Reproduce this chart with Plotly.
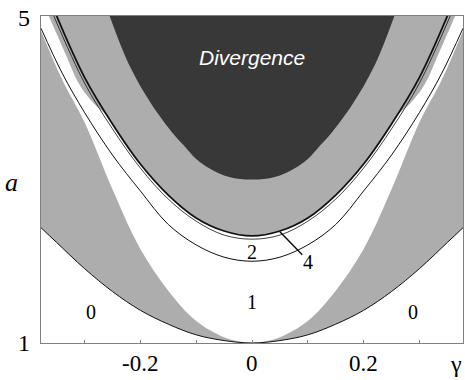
import plotly.graph_objects as go

# ---- data (half-curves, symmetric in gamma) ----
gamma_A = [0.0, 0.05, 0.10, 0.15, 0.20, 0.25, 0.30, 0.35, 0.378]
a_A     = [1.00, 1.03, 1.10, 1.23, 1.40, 1.63, 1.91, 2.23, 2.41]

gamma_B = [0.0, 0.025, 0.05, 0.10, 0.15, 0.20, 0.25, 0.30, 0.34, 0.378]
a_B     = [1.00, 1.02, 1.07, 1.27, 1.64, 2.15, 2.88, 3.70, 4.22, 4.82]

gamma_C = [0.0, 0.05, 0.10, 0.15, 0.20, 0.25, 0.30, 0.34, 0.378]
a_C     = [2.00, 2.05, 2.20, 2.45, 2.86, 3.30, 3.82, 4.30, 4.85]

gamma_D = [0.0, 0.05, 0.10, 0.15, 0.20, 0.25, 0.30, 0.355]
a_D     = [2.27, 2.32, 2.49, 2.76, 3.14, 3.62, 4.18, 5.00]

gamma_E = [0.0, 0.05, 0.10, 0.15, 0.20, 0.25, 0.30, 0.35]
a_E     = [2.31, 2.37, 2.53, 2.81, 3.19, 3.68, 4.25, 5.00]

gamma_W = [0.26, 0.29, 0.31, 0.335, 0.364]
a_W     = [3.78, 3.98, 4.17, 4.55, 5.00]

gamma_V = [0.0, 0.025, 0.05, 0.075, 0.10, 0.12, 0.14, 0.18, 0.22, 0.255]
a_V     = [3.00, 3.01, 3.05, 3.13, 3.25, 3.40, 3.55, 3.92, 4.40, 5.00]

x_ticks = [-0.3, -0.2, -0.1, 0.0, 0.1, 0.2, 0.3]
x_ticktext = ["", "-0.2", "", "0", "", "0.2", ""]
y_ticks = [1, 5]
y_ticktext = ["1", "5"]

GRAY = "#adadad"
DARK = "#383838"
XMAX = 0.378
YMIN, YTOP = 1.0, 5.0


def mirror(g, a):
    xs = [-v for v in reversed(g)] + (g[1:] if g[0] == 0 else g)
    ys = list(reversed(a)) + (a[1:] if g[0] == 0 else a)
    return xs, ys


fig = go.Figure()


def top_line():
    fig.add_trace(go.Scatter(x=[-XMAX, XMAX], y=[YTOP, YTOP], mode="lines",
                             line=dict(width=0), hoverinfo="skip"))


def fill_to_top(xs, ys, color):
    top_line()
    fig.add_trace(go.Scatter(x=xs, y=ys, mode="lines", fill="tonexty", fillcolor=color,
                             line=dict(width=0, shape="spline", smoothing=1.0), hoverinfo="skip"))


# gray region above curve A
xa, ya = mirror(gamma_A, a_A)
fill_to_top(xa, ya, GRAY)
# white region inside B
xb, yb = mirror(gamma_B, a_B)
fill_to_top(xb, yb, "white")
# gray region above E / W
mid_g = [g for g in gamma_E if g < gamma_W[0]]
mid_a = a_E[:len(mid_g)]
xm, ym = mirror(mid_g, mid_a)
xs3 = [-g for g in reversed(gamma_W)] + xm + gamma_W
ys3 = list(reversed(a_W)) + ym + a_W
fill_to_top(xs3, ys3, GRAY)
# divergence region
xv, yv = mirror(gamma_V, a_V)
fill_to_top(xv, yv, DARK)

# boundary lines
for g, a, w in [(gamma_A, a_A, 1.0), (gamma_C, a_C, 1.0), (gamma_D, a_D, 0.8), (gamma_E, a_E, 1.8)]:
    xl, yl = mirror(g, a)
    fig.add_trace(go.Scatter(x=xl, y=yl, mode="lines",
                             line=dict(color="#111111", width=w, shape="spline"), hoverinfo="skip"))

# pointer for label 4
fig.add_trace(go.Scatter(x=[0.05, 0.09], y=[2.36, 2.08], mode="lines",
                         line=dict(color="#111111", width=1.5), hoverinfo="skip"))

serif = "Liberation Serif, Times New Roman, serif"
ann = []
for txt, x, y in [("0", -0.289, 1.38), ("0", 0.288, 1.38), ("1", 0.0, 1.5), ("2", 0.0, 2.11), ("4", 0.101, 1.99)]:
    ann.append(dict(x=x, y=y, text=txt, showarrow=False, xref="x", yref="y",
                    xanchor="center", yanchor="middle",
                    font=dict(family=serif, size=20, color="black")))
ann.append(dict(x=0.0, y=4.49, text="<i>Divergence</i>", showarrow=False, xref="x", yref="y",
                xanchor="center", yanchor="middle",
                font=dict(family="Liberation Sans, Arial, sans-serif", size=21, color="white")))
# axis titles
ann.append(dict(x=-0.069, y=0.492, text="<i>a</i>", showarrow=False, xref="paper", yref="paper",
                xanchor="center", yanchor="middle",
                font=dict(family=serif, size=26, color="black")))
ann.append(dict(x=0.983, y=-0.064, text="γ", showarrow=False, xref="paper", yref="paper",
                xanchor="center", yanchor="middle",
                font=dict(family=serif, size=24, color="black")))
# tick labels
for v, t in zip(x_ticks, x_ticktext):
    if t:
        ann.append(dict(x=v, y=-0.064, text=t, showarrow=False, xref="x", yref="paper",
                        xanchor="center", yanchor="middle",
                        font=dict(family=serif, size=23, color="black")))
for v, t in zip(y_ticks, y_ticktext):
    ann.append(dict(x=-0.022, y=(v - YMIN) / (YTOP - YMIN) - (0.006 if v == YTOP else 0.0),
                    text=t, showarrow=False, xref="paper", yref="paper",
                    xanchor="right", yanchor="middle",
                    font=dict(family=serif, size=24, color="black")))

fig.update_layout(
    width=465, height=380,
    margin=dict(l=41, r=2, t=16, b=37),
    paper_bgcolor="white", plot_bgcolor="white",
    showlegend=False,
    annotations=ann,
    xaxis=dict(range=[-XMAX, XMAX], tickvals=x_ticks, showticklabels=False, ticks="inside",
               ticklen=3, tickcolor="#808080", showgrid=False, zeroline=False,
               showline=True, linecolor="#808080", linewidth=1, mirror=True),
    yaxis=dict(range=[YMIN, YTOP], showticklabels=False, ticks="",
               showgrid=False, zeroline=False,
               showline=True, linecolor="#808080", linewidth=1, mirror=True),
)

fig.write_html("out.html", config={"displayModeBar": False},
               post_script="document.body.style.margin='0';")
